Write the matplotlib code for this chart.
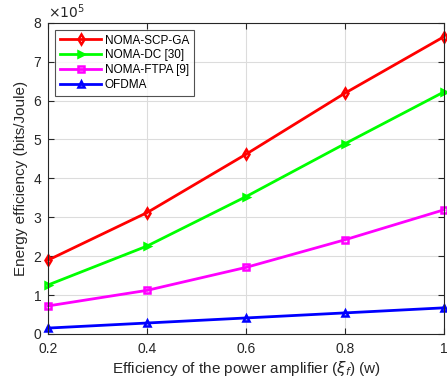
import matplotlib.pyplot as plt
import numpy as np

plt.rcParams['font.family'] = ['Liberation Sans', 'DejaVu Sans']
plt.rcParams['mathtext.fontset'] = 'dejavusans'

eff = [0.2, 0.4, 0.6, 0.8, 1.0]
scp_ga = [1.90, 3.12, 4.62, 6.19, 7.64]
dc = [1.26, 2.26, 3.53, 4.89, 6.22]
ftpa = [0.72, 1.12, 1.71, 2.42, 3.19]
ofdma = [0.15, 0.28, 0.41, 0.54, 0.67]

fig = plt.figure(figsize=(4.47, 3.79), dpi=100)
ax = fig.add_axes([0.108, 0.119, 0.885, 0.821])

styles = [
    (scp_ga, 'NOMA-SCP-GA', '#ff0000', 'd'),
    (dc, 'NOMA-DC [30]', '#00ff00', '>'),
    (ftpa, 'NOMA-FTPA [9]', '#ff00ff', 's'),
    (ofdma, 'OFDMA', '#0000ff', '^'),
]
for vals, lab, col, mk in styles:
    ax.plot(eff, np.array(vals) * 1e5, color=col, lw=2, marker=mk, ms=5,
            mfc='none', mew=1.8, label=lab, clip_on=False)

ax.set_xlim(0.2, 1.0)
ax.set_ylim(0, 8e5)
ax.set_xticks([0.2, 0.4, 0.6, 0.8, 1.0])
ax.set_xticklabels(['0.2', '0.4', '0.6', '0.8', '1'])
ax.set_yticks(np.arange(0, 9) * 1e5)
ax.set_yticklabels([str(i) for i in range(9)])
ax.text(0.0, 1.005, r'$\times 10^5$', transform=ax.transAxes, fontsize=10,
        color='#262626', va='bottom', ha='left')

ax.grid(True, color='#dcdcdc', lw=0.8)
ax.set_axisbelow(True)
for s in ax.spines.values():
    s.set_color('#262626')
    s.set_linewidth(0.8)
ax.tick_params(direction='in', colors='#262626', labelsize=10, length=4,
               top=True, right=True)
ax.tick_params(axis='x', pad=6)
ax.tick_params(axis='y', pad=5)

ax.set_xlabel(r'Efficiency of the power amplifier ($\xi_f$) (w)', fontsize=11,
              color='#262626', labelpad=2)
ax.set_ylabel('Energy efficiency (bits/Joule)', fontsize=11, color='#262626')

leg = ax.legend(loc='upper left', fontsize=8.5, handlelength=3.5, frameon=True,
                fancybox=False, edgecolor='#262626', borderaxespad=0.6,
                labelspacing=0.25, handletextpad=0.3, borderpad=0.4)
leg.get_frame().set_linewidth(0.8)

plt.savefig('out.png', dpi=100)
plt.close()
